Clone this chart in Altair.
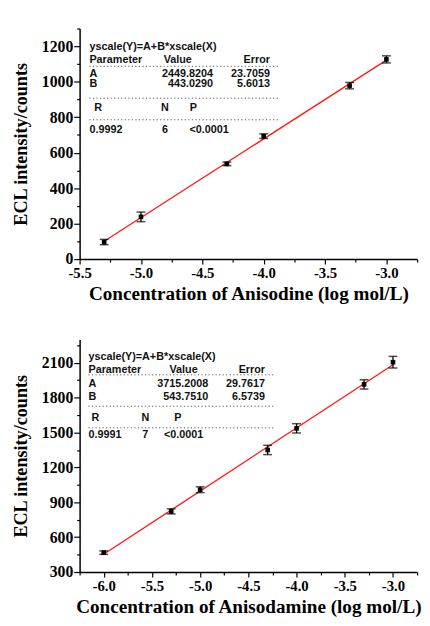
import altair as alt
import pandas as pd
import numpy as np

# ---------------- data ----------------
x_anisodine = [-5.3, -5.0, -4.3, -4.0, -3.3, -3.0]
y_anisodine = [96, 238, 537, 693, 978, 1126]
err_anisodine = [15, 27, 10, 13, 18, 20]

x_anisodamine = [-6.0, -5.3, -5.0, -4.3, -4.0, -3.3, -3.0]
y_anisodamine = [467, 822, 1008, 1350, 1536, 1914, 2105]
err_anisodamine = [15, 22, 25, 40, 40, 40, 50]

table1 = {"A": ["2449.8204", "23.7059"], "B": ["443.0290", "5.6013"],
          "R": "0.9992", "N": "6", "P": "<0.0001"}
table2 = {"A": ["3715.2008", "29.7617"], "B": ["543.7510", "6.5739"],
          "R": "0.9991", "N": "7", "P": "<0.0001"}

SERIF = "Liberation Serif"
SANS = "Liberation Sans"
W = 344


def make_panel(xs, ys, es, xdom, ydom, ymajor, yminor, xtitle, tab, lay, h):
    df = pd.DataFrame({"x": xs, "y": ys,
                       "lo": [v - e for v, e in zip(ys, es)],
                       "hi": [v + e for v, e in zip(ys, es)]})
    xvals = [round(v, 2) for v in np.arange(xdom[0], xdom[1] + 0.001, 0.25)]
    yvals = list(range(ydom[0], ydom[1] + 1, yminor))
    xs_ = alt.Scale(domain=xdom, nice=False, zero=False)
    ys_ = alt.Scale(domain=ydom, nice=False, zero=False)
    xmaj = "abs(datum.value*2 - round(datum.value*2)) < 0.01"
    ymaj = f"datum.value % {ymajor} == 0"
    xaxis = alt.Axis(
        values=xvals, grid=False, title=xtitle,
        labelExpr=f"{xmaj} ? replace(format(datum.value, '.1f'), '\u2212', '-') : ''",
        tickSize={"condition": {"test": xmaj, "value": 5}, "value": 3},
        labelFont=SERIF, labelFontWeight="bold", labelFontSize=15, labelColor="black",
        titleFont=SERIF, titleFontWeight="bold", titleFontSize=19.5, titleColor="black",
        domainColor="black", domainWidth=1.5, tickColor="black", tickWidth=1.2,
        labelPadding=2, titlePadding=4, labelFlush=False, labelOverlap=False)
    yaxis = alt.Axis(
        values=yvals, grid=False, title="ECL intensity/counts",
        labelExpr=f"{ymaj} ? format(datum.value, 'd') : ''",
        tickSize={"condition": {"test": ymaj, "value": 6}, "value": 3},
        labelFont=SERIF, labelFontWeight="bold", labelFontSize=16, labelColor="black",
        titleFont=SERIF, titleFontWeight="bold", titleFontSize=18.5, titleColor="black",
        domainColor="black", domainWidth=1.5, tickColor="black", tickWidth=1.2,
        labelPadding=1, titlePadding=11, labelFlush=False, labelOverlap=False)

    X = lambda f: alt.X(f, scale=xs_, axis=xaxis)
    Y = lambda f: alt.Y(f, scale=ys_, axis=yaxis)

    base = alt.Chart(df)
    line = base.transform_regression("x", "y").mark_line(color="#ff1a1a", strokeWidth=1.4).encode(
        x=X("x:Q"), y=Y("y:Q"))
    bars = base.mark_rule(color="black", strokeWidth=1.3).encode(
        x=X("x:Q"), y=Y("lo:Q"), y2="hi:Q")
    cap_lo = base.mark_tick(color="black", thickness=1.5, size=9, orient="horizontal").encode(
        x=X("x:Q"), y=Y("lo:Q"))
    cap_hi = base.mark_tick(color="black", thickness=1.5, size=9, orient="horizontal").encode(
        x=X("x:Q"), y=Y("hi:Q"))
    pts = base.mark_square(color="black", size=22, opacity=1).encode(
        x=X("x:Q"), y=Y("y:Q"))

    # inset fit table (pixel layout relative to plot area)
    L = lay
    left_txt = pd.DataFrame({
        "t": ["yscale(Y)=A+B*xscale(X)", "Parameter", "A", "B", tab["R"], tab["P"]],
        "px": [L["x0"], L["x0"], L["x0"], L["x0"], L["x0"], L["pl"]],
        "py": [L["y"][0], L["y"][1], L["y"][2], L["y"][3], L["y"][5], L["y"][5]]})
    right_txt = pd.DataFrame({
        "t": [tab["A"][0], tab["B"][0], "Error", tab["A"][1], tab["B"][1]],
        "px": [L["vr"], L["vr"], L["er"], L["er"], L["er"]],
        "py": [L["y"][2], L["y"][3], L["y"][1], L["y"][2], L["y"][3]]})
    center_txt = pd.DataFrame({
        "t": ["Value", "R", "N", "P", tab["N"]],
        "px": [L["vc"], L["rc"], L["nc"], L["pc"], L["nc"]],
        "py": [L["y"][1], L["y"][4], L["y"][4], L["y"][4], L["y"][5]]})
    dots = pd.DataFrame({"x1": [L["x0"]] * 3, "x2": [L["x1"]] * 3, "y": L["dots"]})

    def txt(d, align):
        return alt.Chart(d).mark_text(align=align, baseline="middle", font=SANS,
                                      fontWeight="bold", fontSize=11, color="#111").encode(
            x=alt.X("px:Q", scale=None), y=alt.Y("py:Q", scale=None), text="t:N")

    rules = alt.Chart(dots).mark_rule(color="#555", strokeDash=[1.2, 2.4], strokeWidth=1).encode(
        x=alt.X("x1:Q", scale=None), x2="x2:Q", y=alt.Y("y:Q", scale=None))

    return alt.layer(line, bars, cap_lo, cap_hi, pts, rules,
                     txt(left_txt, "left"), txt(right_txt, "right"), txt(center_txt, "center")
                     ).properties(width=W, height=h)


lay1 = {"x0": 10, "x1": 202, "y": [19, 32, 46, 57, 81, 103], "dots": [38.5, 71, 93],
        "vr": 136, "er": 194, "vc": 100, "rc": 19, "nc": 87, "pc": 116, "pl": 112}
lay2 = {"x0": 9, "x1": 198, "y": [18, 31, 45, 59, 80, 97], "dots": [36, 68, 90],
        "vr": 131, "er": 189, "vc": 106, "rc": 16, "nc": 67, "pc": 100, "pl": 86}

top = make_panel(x_anisodine, y_anisodine, err_anisodine, [-5.5, -2.75], [0, 1300], 200, 100,
                 "Concentration of Anisodine (log mol/L)", table1, lay1, 235)
bottom = make_panel(x_anisodamine, y_anisodamine, err_anisodamine, [-6.25, -2.75], [300, 2300], 300, 150,
                    "Concentration of Anisodamine (log mol/L)", table2, lay2, 237)

chart = alt.vconcat(top, bottom, spacing=34).properties(
    padding={"left": 4, "top": 7, "right": 0, "bottom": 0}, background="white"
).configure_view(stroke=None)

chart.save("out.html", embed_options={"renderer": "svg", "actions": False})
